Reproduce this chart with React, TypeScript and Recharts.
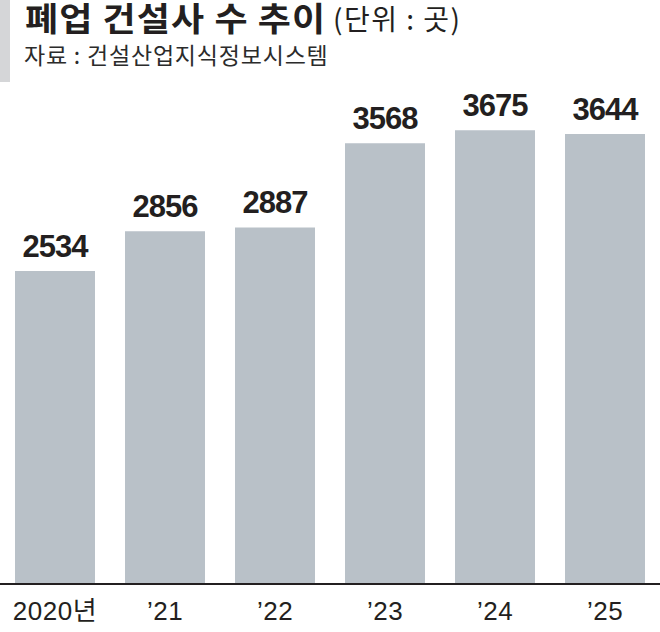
import React from 'react';
import { BarChart, Bar, XAxis, YAxis, LabelList } from 'recharts';

const categories = ['2020년', '’21', '’22', '’23', '’24', '’25'];
const closures = [2534, 2856, 2887, 3568, 3675, 3644];

const titleMain = '폐업 건설사 수 추이';
const titleUnit = '(단위 : 곳)';
const sourceText = '자료 : 건설산업지식정보시스템';

const data = categories.map((c, i) => ({ year: c, value: closures[i] }));

const INK = '#231f20';
const BAR = '#b9c1c8';
const NUM_FONT = '"Liberation Sans", Arial';
const KR_FONT = '"Noto Sans CJK KR", "Noto Sans", sans-serif';

const ValueLabel = (props: any) => {
  const { x, y, width, value } = props;
  return (
    <text
      x={x + width / 2}
      y={y - 14}
      textAnchor="middle"
      fontFamily={NUM_FONT}
      fontWeight="bold"
      fontSize={31}
      letterSpacing={-1}
      fill={INK}
    >
      {value}
    </text>
  );
};

const Tick = (props: any) => {
  const { x, y, payload } = props;
  return (
    <text
      x={x}
      y={y}
      dy={28}
      textAnchor="middle"
      fontFamily={`${NUM_FONT}, ${KR_FONT}`}
      fontSize={26}
      letterSpacing={0.5}
      fill={INK}
    >
      {payload.value}
    </text>
  );
};

export default function App() {
  return (
    <div style={{ position: 'absolute', left: 0, top: 0, width: 660, height: 632, background: '#fff' }}>
      <div style={{ position: 'absolute', left: 0, top: 0, width: 10, height: 82, background: '#d5d6d8' }} />
      <div
        style={{
          position: 'absolute',
          left: 25,
          top: 0,
          whiteSpace: 'nowrap',
          color: INK,
          fontFamily: KR_FONT,
          fontSize: 33,
          fontWeight: 700,
          letterSpacing: 1,
          lineHeight: '34px',
          transform: 'scaleX(1.09)',
          transformOrigin: 'left top',
        }}
      >
        {titleMain}
      </div>
      <div
        style={{
          position: 'absolute',
          left: 333,
          top: 2,
          whiteSpace: 'nowrap',
          color: INK,
          fontFamily: KR_FONT,
          fontSize: 28,
          fontWeight: 400,
          letterSpacing: 1.5,
          lineHeight: '32px',
        }}
      >
        {titleUnit}
      </div>
      <div
        style={{
          position: 'absolute',
          left: 24,
          top: 41,
          whiteSpace: 'nowrap',
          color: '#2b2b2b',
          fontFamily: KR_FONT,
          fontSize: 23,
          letterSpacing: 0.8,
          lineHeight: '26px',
        }}
      >
        {sourceText}
      </div>
      <BarChart
        width={660}
        height={632}
        data={data}
        margin={{ top: 90, right: 0, bottom: 0, left: 0 }}
      >
        <YAxis hide domain={[0, 4000]} />
        <XAxis
          dataKey="year"
          height={48}
          axisLine={{ stroke: INK, strokeWidth: 2 }}
          tickLine={false}
          tick={<Tick />}
          interval={0}
        />
        <Bar dataKey="value" fill={BAR} barSize={80} isAnimationActive={false}>
          <LabelList dataKey="value" content={<ValueLabel />} />
        </Bar>
      </BarChart>
    </div>
  );
}
